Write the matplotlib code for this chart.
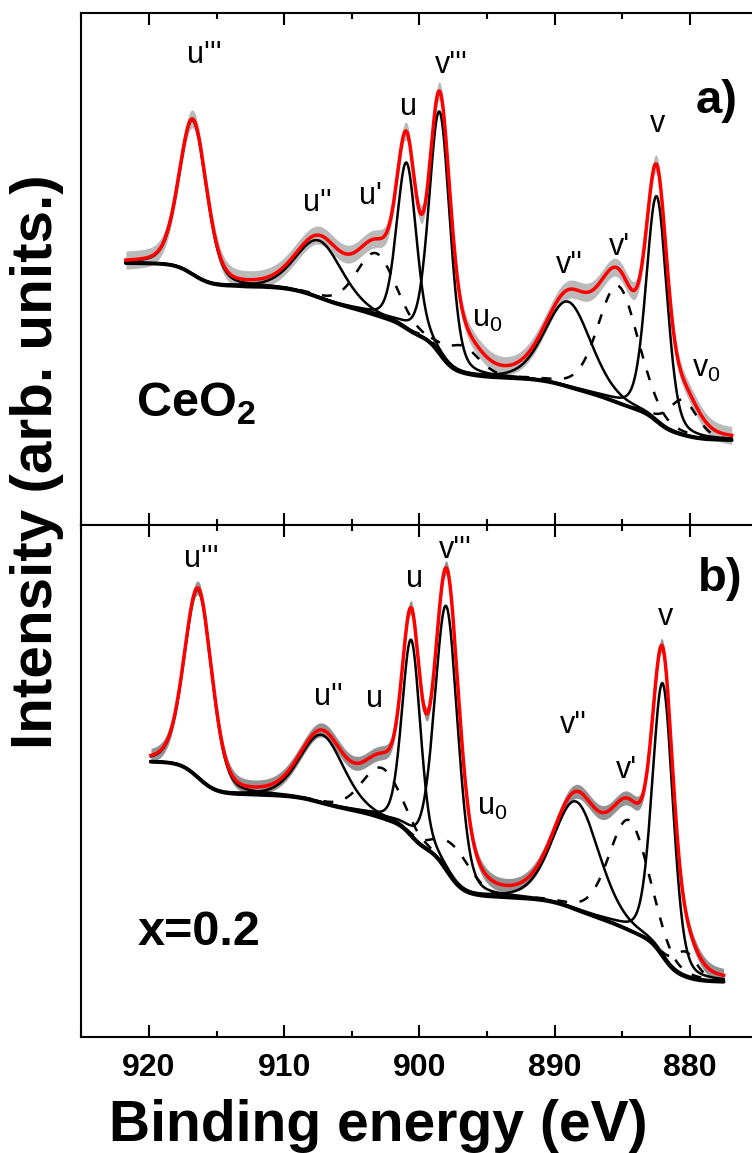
import numpy as np
import matplotlib
matplotlib.use("Agg")
import matplotlib.pyplot as plt
from matplotlib import font_manager
from matplotlib.ticker import MultipleLocator

plt.rcParams['font.family'] = ['Liberation Sans', 'DejaVu Sans']
plt.rcParams['mathtext.fontset'] = 'custom'
plt.rcParams['mathtext.rm'] = 'Liberation Sans'
plt.rcParams['mathtext.bf'] = 'Liberation Sans:bold'

# Ce 3d components, same order in both panels
names = ["u'''", "u''", "u'", "u", "v'''", "u0", "v''", "v'", "v", "v0"]
dashed = [False, False, True, False, False, True, False, True, False, True]

# a) CeO2 : centre (eV), height, FWHM (eV), background step
a_center = [916.75, 907.4, 903.2, 900.95, 898.5, 896.8, 889.0, 885.3, 882.45, 880.5]
a_height = [154, 57, 62, 166, 242, 27, 85, 117, 225, 35]
a_fwhm = [2.4, 4.0, 3.4, 1.7, 1.8, 3.0, 4.0, 3.5, 1.8, 2.5]
a_step = [23, 22, 14, 14, 36, 6, 16, 18, 20, 8]
a_bg_low = 85
a_range = (876.9, 921.7)
a_noise = 9

# b) x=0.2
b_center = [916.35, 907.2, 902.8, 900.6, 898.0, 897.3, 888.4, 884.5, 882.0, 880.3]
b_height = [188, 68, 50, 196, 264, 35, 108, 110, 273, 25]
b_fwhm = [2.4, 3.8, 3.4, 1.6, 2.0, 3.0, 4.0, 3.5, 1.8, 2.0]
b_step = [33, 15, 14, 24, 42, 8, 22, 20, 36, 6]
b_bg_low = 55.6
b_range = (877.5, 919.85)
b_noise = 7

# peak labels: text, energy, height of baseline
a_labels = [("u'''", 915.9, 462), ("v'''", 897.65, 452), ("u", 900.8, 410),
            ("u''", 907.55, 314), ("u'", 903.6, 321), ("v''", 888.9, 252),
            ("v'", 885.2, 270), ("v", 882.4, 393)]
b_labels = [("u'''", 916.15, 470), ("v'''", 897.35, 479), ("u", 900.35, 450),
            ("u''", 906.7, 332), ("u", 903.3, 330), ("v''", 888.6, 304),
            ("v'", 884.65, 259), ("v", 881.8, 412)]
a_sub = [("u", 896.1, 198), ("v", 879.85, 148)]
b_sub = [("u", 895.7, 222)]

try:
    font_manager.findfont('Liberation Sans Narrow', fallback_to_default=False)
    tick_font = dict(family='Liberation Sans Narrow', size=25, weight='bold')
except ValueError:
    tick_font = dict(family='Liberation Sans', size=23, weight='bold')


def pvoigt(E, c, h, w, eta=0.25):
    x = (E - c) / w
    return h * ((1 - eta) * np.exp(-4 * np.log(2) * x ** 2) + eta / (1 + 4 * x ** 2))


def draw_panel(ax, centers, heights, fwhms, steps, bg_low, erange, noise, data_color):
    E = np.linspace(erange[0], erange[1], 2500)
    peaks = [pvoigt(E, c, h, w) for c, h, w in zip(centers, heights, fwhms)]
    bg = np.full_like(E, bg_low, dtype=float)
    for p, s in zip(peaks, steps):
        cum = np.cumsum(p)
        bg += s * cum / cum[-1]
    env = bg + np.sum(peaks, axis=0)

    ax.fill_between(E, env - noise, env + noise, color=data_color, alpha=0.45, lw=0)
    for p, d in zip(peaks, dashed):
        ax.plot(E, bg + p, color='k', lw=1.8,
                ls=(0, (4, 5)) if d else '-')
    ax.plot(E, bg, color='k', lw=2.8, solid_capstyle='round')
    ax.plot(E, env, color='#ff0000', lw=2.5)

    ax.set_xlim(925.0, 875.4)
    ax.set_ylim(0, 512.3)
    ax.set_yticks([])
    ax.xaxis.set_major_locator(MultipleLocator(10))
    ax.xaxis.set_minor_locator(MultipleLocator(5))
    ax.tick_params(axis='x', which='both', direction='in', top=True, bottom=True,
                   width=1.5)
    ax.tick_params(axis='x', which='major', length=8.5)
    ax.tick_params(axis='x', which='minor', length=4.3)
    ax.spines['right'].set_visible(False)
    for sp in ('left', 'top', 'bottom'):
        ax.spines[sp].set_linewidth(1.5)


fig = plt.figure(figsize=(7.52, 11.53), dpi=100)
ax_a = fig.add_axes([0.1081, 0.5447, 0.8919, 0.4443])
ax_b = fig.add_axes([0.1081, 0.10035, 0.8919, 0.4443])

draw_panel(ax_a, a_center, a_height, a_fwhm, a_step, a_bg_low, a_range, a_noise, '#666666')
draw_panel(ax_b, b_center, b_height, b_fwhm, b_step, b_bg_low, b_range, b_noise, '#111111')

ax_a.tick_params(axis='x', labelbottom=False)
ax_b.tick_params(axis='x', pad=11)
for lab in ax_b.get_xticklabels():
    lab.set_fontfamily(tick_font['family'])
    lab.set_fontsize(tick_font['size'])
    lab.set_fontweight(tick_font['weight'])

for ax, labels, subs in ((ax_a, a_labels, a_sub), (ax_b, b_labels, b_sub)):
    for txt, e, h in labels:
        ax.text(e, h, txt, fontsize=22, ha='center', va='baseline')
    for txt, e, h in subs:
        ax.text(e, h, txt + r'$_\mathregular{0}$', fontsize=22, ha='left', va='baseline')

ax_a.text(878.05, 412, 'a)', fontsize=34, fontweight='bold', ha='center', va='baseline')
ax_b.text(877.75, 446, 'b)', fontsize=34, fontweight='bold', ha='center', va='baseline')
ax_a.text(920.95, 108, r'CeO$_\mathbf{2}$', fontsize=35, fontweight='bold',
          ha='left', va='baseline')
ax_b.text(920.8, 92, 'x=0.2', fontsize=35, fontweight='bold', ha='left', va='baseline')

fig.text(378 / 752, 12 / 1153, 'Binding energy (eV)', fontsize=41, fontweight='bold',
         ha='center', va='baseline')
fig.text(37 / 752, 1 - 462 / 1153, 'Intensity (arb. units.)', fontsize=42,
         fontweight='bold', rotation=90, ha='center', va='center')

fig.savefig('out.png', dpi=100)
